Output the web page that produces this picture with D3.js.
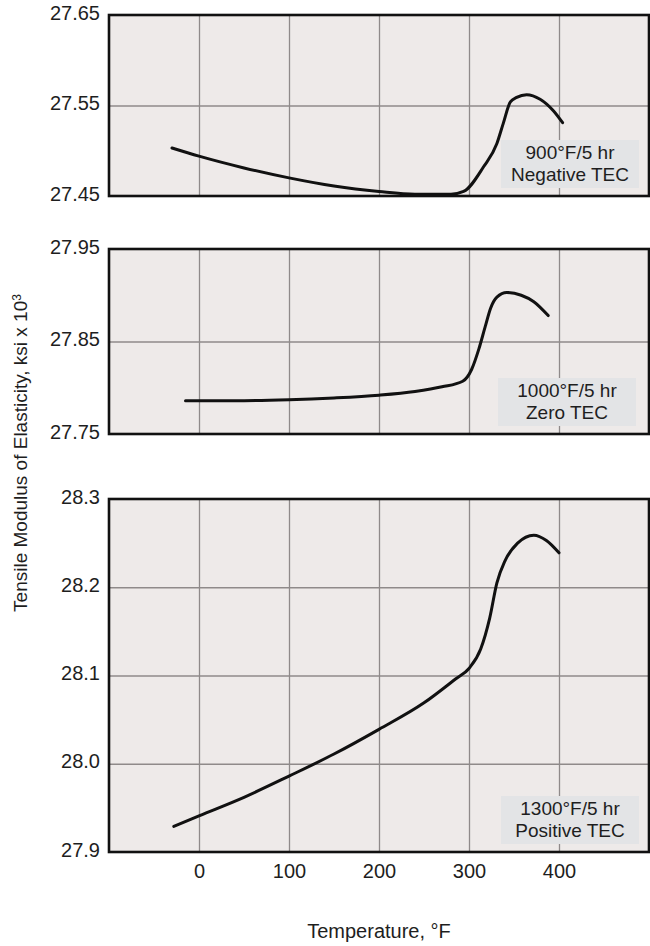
<!DOCTYPE html>
<html>
<head>
<meta charset="utf-8">
<script src="https://cdn.jsdelivr.net/npm/d3@7"></script>
<style>
  html, body { margin: 0; padding: 0; background: #ffffff; }
  svg { display: block; }
  text { font-family: "Liberation Sans", Arial, Helvetica, sans-serif; fill: #1e1e1e; }
</style>
</head>
<body>
<svg id="chart" width="650" height="946"></svg>
<script>
// ---------------- data ----------------
const xTickValues = [0, 100, 200, 300, 400];
const xTickLabels = ["0", "100", "200", "300", "400"];

// Panel 1: 900°F/5 hr, Negative TEC
const negTemp = [-30, 0, 50, 100, 150, 200, 240, 280, 294, 316, 331, 338, 346, 353, 364, 379, 394, 404];
const negMod  = [27.503, 27.494, 27.481, 27.470, 27.461, 27.455, 27.452, 27.452, 27.455, 27.482, 27.508, 27.530, 27.554, 27.559, 27.562, 27.557, 27.544, 27.531];
const negTicks = [27.45, 27.55, 27.65];
const negTickLabels = ["27.45", "27.55", "27.65"];
const negLabel = ["900°F/5 hr", "Negative TEC"];

// Panel 2: 1000°F/5 hr, Zero TEC
const zeroTemp = [-15, 50, 100, 150, 200, 240, 270, 293, 303, 311, 318, 324, 331, 342, 358, 372, 388];
const zeroMod  = [27.786, 27.786, 27.787, 27.789, 27.792, 27.796, 27.801, 27.807, 27.820, 27.842, 27.866, 27.886, 27.898, 27.903, 27.900, 27.893, 27.878];
const zeroTicks = [27.75, 27.85, 27.95];
const zeroTickLabels = ["27.75", "27.85", "27.95"];
const zeroLabel = ["1000°F/5 hr", "Zero TEC"];

// Panel 3: 1300°F/5 hr, Positive TEC
const posTemp = [-28, 0, 50, 100, 150, 200, 250, 285, 300, 313, 323, 331, 340, 354, 372, 386, 400];
const posMod  = [27.929, 27.941, 27.962, 27.986, 28.011, 28.039, 28.069, 28.096, 28.108, 28.130, 28.165, 28.205, 28.230, 28.250, 28.259, 28.253, 28.239];
const posTicks = [27.9, 28.0, 28.1, 28.2, 28.3];
const posTickLabels = ["27.9", "28.0", "28.1", "28.2", "28.3"];
const posLabel = ["1300°F/5 hr", "Positive TEC"];

const xTitle = "Temperature, °F";
const yTitle = "Tensile Modulus of Elasticity, ksi x 10";
const yTitleSup = "3";

// ---------------- layout ----------------
const svg = d3.select("#chart");
const X0 = 109, X1 = 649;
const x = d3.scaleLinear().domain([-100, 500]).range([X0, X1]);

const panels = [
  { temp: negTemp, mod: negMod, ticks: negTicks, labels: negTickLabels, note: negLabel, top: 15, bottom: 196 },
  { temp: zeroTemp, mod: zeroMod, ticks: zeroTicks, labels: zeroTickLabels, note: zeroLabel, top: 249, bottom: 434 },
  { temp: posTemp, mod: posMod, ticks: posTicks, labels: posTickLabels, note: posLabel, top: 499, bottom: 852 }
];

const FILL = "#eeeae9";
const GRID = "#8f8a8a";
const BOX = "#e3e4e6";

panels.forEach((p, i) => {
  const y = d3.scaleLinear().domain(d3.extent(p.ticks)).range([p.bottom, p.top]);
  const g = svg.append("g");

  // background
  g.append("rect")
    .attr("x", X0).attr("y", p.top)
    .attr("width", X1 - X0).attr("height", p.bottom - p.top)
    .attr("fill", FILL);

  // vertical grid via axis
  const gx = g.append("g")
    .attr("transform", `translate(0,${p.bottom})`)
    .call(d3.axisBottom(x).tickValues(xTickValues)
      .tickSize(-(p.bottom - p.top)).tickFormat(i === 2 ? ((d, k) => xTickLabels[k]) : ""));
  gx.select(".domain").remove();
  gx.selectAll(".tick line").attr("stroke", GRID).attr("stroke-width", 1.3);
  gx.selectAll(".tick text")
    .attr("y", 12).attr("dy", "0.71em")
    .attr("font-size", 20).attr("fill", "#1e1e1e");

  // horizontal grid via axis (inner ticks only)
  const gy = g.append("g")
    .attr("transform", `translate(${X0},0)`)
    .call(d3.axisLeft(y).tickValues(p.ticks).tickSize(-(X1 - X0)).tickFormat((d, k) => p.labels[k]));
  gy.select(".domain").remove();
  gy.selectAll(".tick line")
    .attr("stroke", GRID).attr("stroke-width", 1.3)
    .attr("display", d => (d === p.ticks[0] || d === p.ticks[p.ticks.length - 1]) ? "none" : null);
  gy.selectAll(".tick text")
    .attr("x", -9).attr("dy", "0.2em")
    .attr("font-size", 20).attr("fill", "#1e1e1e");

  // annotation box
  const bw = 138, bh = 48;
  const bx = 501 + (i === 1 ? -3 : 0);
  const by = p.bottom - 8 - bh;
  g.append("rect")
    .attr("x", bx).attr("y", by).attr("width", bw).attr("height", bh)
    .attr("fill", BOX);
  g.append("text")
    .attr("x", bx + bw / 2).attr("y", by + 12)
    .attr("text-anchor", "middle").attr("dominant-baseline", "central")
    .attr("font-size", 19).attr("fill", "#2a2a2a")
    .text(p.note[0]);
  g.append("text")
    .attr("x", bx + bw / 2).attr("y", by + 34)
    .attr("text-anchor", "middle").attr("dominant-baseline", "central")
    .attr("font-size", 19).attr("fill", "#2a2a2a")
    .text(p.note[1]);

  // curve
  const pts = p.temp.map((t, k) => [t, p.mod[k]]);
  g.append("path")
    .datum(pts)
    .attr("fill", "none")
    .attr("stroke", "#111")
    .attr("stroke-width", 3)
    .attr("stroke-linecap", "round")
    .attr("d", d3.line().x(d => x(d[0])).y(d => y(d[1])).curve(d3.curveMonotoneX));

  // border
  g.append("rect")
    .attr("x", X0).attr("y", p.top)
    .attr("width", X1 - X0).attr("height", p.bottom - p.top)
    .attr("fill", "none").attr("stroke", "#111").attr("stroke-width", 2.6);
});

// x title
svg.append("text")
  .attr("x", (X0 + X1) / 2).attr("y", 931)
  .attr("text-anchor", "middle").attr("dominant-baseline", "central")
  .attr("font-size", 20)
  .text(xTitle);

// y title
const yt = svg.append("text")
  .attr("transform", "translate(27,453) rotate(-90)")
  .attr("text-anchor", "middle")
  .attr("font-size", 19);
yt.append("tspan").text(yTitle);
yt.append("tspan").attr("dy", "-0.5em").attr("font-size", 12).text(yTitleSup);
</script>
</body>
</html>
